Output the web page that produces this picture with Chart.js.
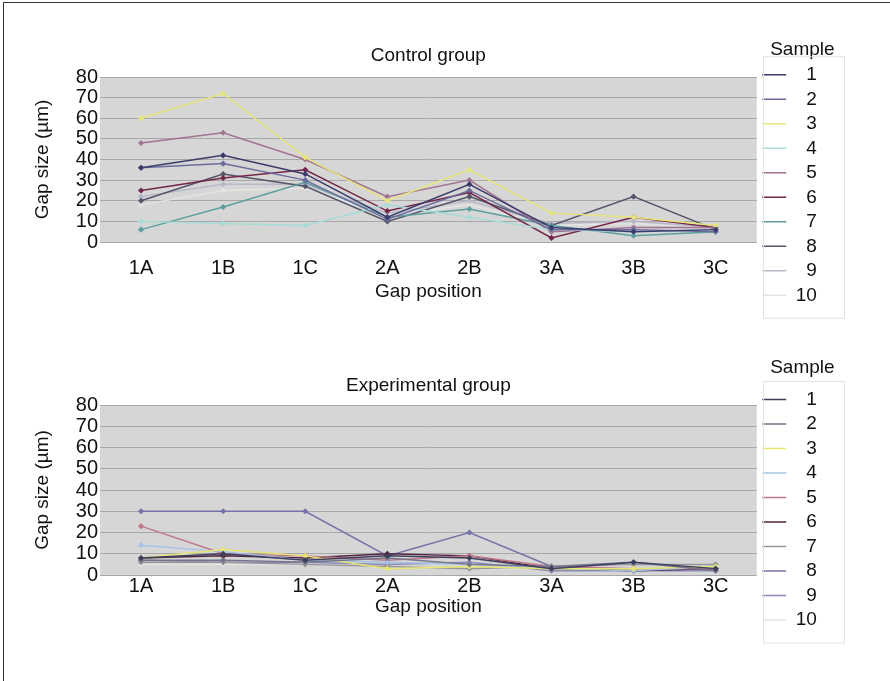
<!DOCTYPE html>
<html lang="en">
<head>
    <meta charset="UTF-8">
    <title>Gap size by position</title>
    <script src="https://cdn.jsdelivr.net/npm/chart.js"></script>
    <style>
        body { margin: 0; background: #fff; }
        .frame { position: absolute; left: 3px; top: 2px; width: 887px; height: 679px; border-top: 1px solid #333; border-left: 1px solid #333; }
        canvas { position: absolute; left: 0; }
        #controlChart { top: 0; }
        #experimentalChart { top: 330px; }
    </style>
</head>
<body>
    <div class="frame"></div>
    <canvas id="controlChart" width="890" height="330"></canvas>
    <canvas id="experimentalChart" width="890" height="351"></canvas>

    <script>
        // Gap positions (x axis) and sample names
        const positions = ["1A", "1B", "1C", "2A", "2B", "3A", "3B", "3C"];
        const samples = ["1", "2", "3", "4", "5", "6", "7", "8", "9", "10"];
        const yTicks = [0, 10, 20, 30, 40, 50, 60, 70, 80];

        // Control group, gap size (µm) per sample
        const ctl1 = [36, 42, 33, 12, 28, 7, 5, 6];
        const ctl2 = [36, 38, 30, 11, 25, 6, 6, 5];
        const ctl3 = [60, 72, 41, 20, 35, 14, 12, 8];
        const ctl4 = [10, 9, 8, 18, 12, 6, 5, 6];
        const ctl5 = [48, 53, 40, 22, 30, 5, 7, 7];
        const ctl6 = [25, 31, 35, 15, 24, 2, 12, 7];
        const ctl7 = [6, 17, 29, 12, 16, 8, 3, 5];
        const ctl8 = [20, 33, 27, 10, 22, 8, 22, 6];
        const ctl9 = [22, 28, 28, 14, 20, 9, 10, 7];
        const ctl10 = [18, 25, 26, 13, 18, 8, 9, 7];

        // Experimental group, gap size (µm) per sample
        const exp1 = [8, 10, 7, 9, 8, 3, 6, 3];
        const exp2 = [7, 7, 6, 8, 5, 4, 6, 2];
        const exp3 = [8, 12, 9, 3, 4, 3, 3, 4];
        const exp4 = [14, 11, 7, 6, 5, 3, 2, 4];
        const exp5 = [23, 10, 9, 7, 9, 4, 3, 3];
        const exp6 = [8, 9, 8, 10, 9, 3, 2, 3];
        const exp7 = [6, 6, 5, 4, 3, 4, 5, 5];
        const exp8 = [30, 30, 30, 9, 20, 4, 2, 3];
        const exp9 = [7, 6, 6, 5, 6, 2, 2, 2];
        const exp10 = [5, 5, 5, 4, 3, 3, 3, 3];

        const controlColors = ["#3c3c6c", "#6c6c9c", "#e6e67c", "#a6dcd6", "#a27492", "#74264a", "#5e9e9e", "#55556a", "#b8b8c8", "#e4e4e4"];
        const expColors = ["#3e3e5e", "#74748a", "#e6e670", "#a4c2e6", "#c07888", "#52243e", "#96969a", "#7474a8", "#8a8ab8", "#e4e4e4"];

        const FONT = "'Liberation Sans', Arial, sans-serif";

        // grey plot background and the thin box round the legend items
        const plotBg = {
            id: "plotBg",
            beforeDraw(chart) {
                const { ctx, chartArea } = chart;
                ctx.save();
                ctx.fillStyle = "#d6d6d6";
                ctx.fillRect(chartArea.left, chartArea.top, chartArea.width, chartArea.height);
                ctx.restore();
            },
            afterDraw(chart) {
                const boxes = chart.legend && chart.legend.legendHitBoxes;
                if (!boxes || !boxes.length) return;
                const first = boxes[0], last = boxes[boxes.length - 1];
                const ctx = chart.ctx;
                ctx.save();
                ctx.strokeStyle = "#e2e2e2";
                ctx.lineWidth = 1;
                ctx.strokeRect(Math.round(first.left) + 1.5, first.top - 8.5, 81, last.top + last.height - first.top + 22);
                ctx.restore();
            }
        };

        function makeDatasets(series, colors) {
            return series.map((values, i) => ({
                label: samples[i],
                data: values,
                borderColor: colors[i],
                backgroundColor: colors[i],
                borderWidth: 1.5,
                pointRadius: 2,
                pointStyle: "rectRot",
                tension: 0
            }));
        }

        function makeChart(canvasId, title, datasets, g) {
            return new Chart(document.getElementById(canvasId), {
                type: "line",
                data: { labels: positions, datasets: datasets },
                options: {
                    responsive: false,
                    animation: false,
                    layout: { padding: { top: g.top, left: 27, right: 42, bottom: 0 } },
                    plugins: {
                        title: {
                            display: true,
                            fullSize: false,
                            text: title,
                            color: "#111",
                            font: { family: FONT, size: 19, weight: "normal" },
                            padding: { top: g.titleTop, bottom: g.titleBottom }
                        },
                        legend: {
                            position: "right",
                            align: "start",
                            title: {
                                display: true,
                                text: "Sample",
                                color: "#111",
                                font: { family: FONT, size: 19 },
                                padding: { top: g.legTop, bottom: g.legBottom }
                            },
                            labels: {
                                usePointStyle: true,
                                pointStyle: "line",
                                pointStyleWidth: 24,
                                padding: 5.5,
                                color: "#111",
                                font: { family: FONT, size: 19 },
                                generateLabels(chart) {
                                    const items = Chart.defaults.plugins.legend.labels.generateLabels(chart);
                                    items.forEach(it => {
                                        // right-align the numbers and leave room like the boxed legend
                                        if (it.text.length < 2) it.text = "\u2007" + it.text;
                                        it.text += "\u2007\u2007";
                                        it.pointStyle = "line";
                                    });
                                    return items;
                                }
                            }
                        },
                        tooltip: { enabled: false }
                    },
                    scales: {
                        x: {
                            offset: true,
                            grid: { display: false, drawTicks: false },
                            border: { display: false },
                            ticks: { color: "#111", font: { family: FONT, size: 20 }, padding: g.xPad, maxRotation: 0, autoSkip: false },
                            title: {
                                display: true,
                                text: "Gap position",
                                color: "#111",
                                font: { family: FONT, size: 19 },
                                padding: { top: 0, bottom: g.xTitleBottom }
                            },
                            afterFit(scale) { scale.height = g.xHeight; }
                        },
                        y: {
                            min: 0,
                            max: 80,
                            afterBuildTicks(scale) { scale.ticks = yTicks.map(v => ({ value: v })); },
                            grid: { color: "#a8a8a8", lineWidth: 1, drawTicks: false },
                            border: { display: false },
                            ticks: { color: "#111", font: { family: FONT, size: 20 }, padding: 2, autoSkip: false },
                            title: {
                                display: true,
                                text: "Gap size (µm)",
                                color: "#111",
                                font: { family: FONT, size: 19 },
                                padding: { top: 4, bottom: 0 }
                            },
                            afterFit(scale) { scale.width = 73; }
                        }
                    }
                },
                plugins: [plotBg]
            });
        }

        makeChart("controlChart", "Control group",
            makeDatasets([ctl1, ctl2, ctl3, ctl4, ctl5, ctl6, ctl7, ctl8, ctl9, ctl10], controlColors),
            { top: 30, titleTop: 14.6, titleBottom: 9.6, legTop: 10, legBottom: -3,
              xPad: 14, xTitleBottom: 26.6, xHeight: 88 });

        makeChart("experimentalChart", "Experimental group",
            makeDatasets([exp1, exp2, exp3, exp4, exp5, exp6, exp7, exp8, exp9, exp10], expColors),
            { top: 24, titleTop: 20.6, titleBottom: 7.6, legTop: 4, legBottom: 3.6,
              xPad: -1, xTitleBottom: 62.6, xHeight: 106 });
    </script>
</body>
</html>
